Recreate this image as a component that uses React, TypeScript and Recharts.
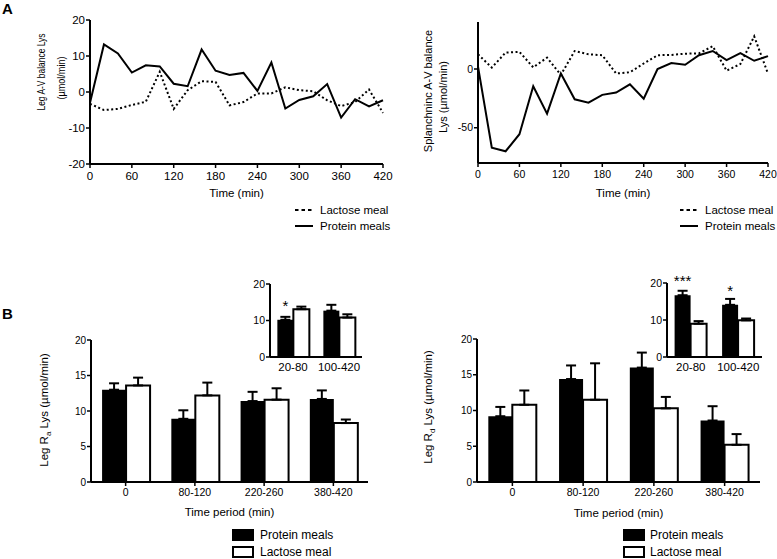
import { LineChart, Line, BarChart, Bar, XAxis, YAxis, ErrorBar, LabelList, Label } from "recharts"

// time course (min), sampled every 20 min
const times = [0, 20, 40, 60, 80, 100, 120, 140, 160, 180, 200, 220, 240, 260, 280, 300, 320, 340, 360, 380, 400, 420]
const timeTicks = [0, 60, 120, 180, 240, 300, 360, 420]

// Panel A, leg A-V balance Lys (µmol/min)
const legLactose = [-3.3, -5, -4.7, -3.6, -2.7, 5.6, -4.7, 0.5, 3, 2.8, -3.7, -2.8, -0.4, -0.4, 1.3, 0.5, 0.2, -2.3, -3.9, -2.8, 0.7, -5.8]
const legProtein = [-3, 13.2, 10.7, 5.4, 7.4, 7.1, 2.3, 1.6, 11.8, 5.9, 4.7, 5.3, 0.3, 8.2, -4.6, -2.2, -1.2, 2.2, -7.1, -2, -4, -2.3]

// Panel A, splanchnic A-V balance Lys (µmol/min)
const splLactose = [12.5, 1.2, 14, 14.6, 1.4, 9.7, -5, 15.3, 12.5, 11.7, -3.8, -2.8, 4.7, 11.7, 12, 13, 13.3, 19.4, -1.4, 4.2, 27.8, -4]
const splProtein = [2, -67, -70, -55.5, -14.7, -38, -3.8, -25.8, -28.6, -22, -20, -13, -25.3, 0, 5, 3.6, 11.7, 15.3, 7.5, 13.6, 7, 11]

// Panel B, time periods
const periods = ["0", "80-120", "220-260", "380-420"]
const raProtein = [13.0, 8.9, 11.4, 11.7]
const raProteinSem = [0.9, 1.2, 1.3, 1.2]
const raLactose = [13.6, 12.2, 11.6, 8.3]
const raLactoseSem = [1.1, 1.8, 1.6, 0.5]
const rdProtein = [9.2, 14.4, 16.0, 8.6]
const rdProteinSem = [1.3, 1.9, 2.1, 2.0]
const rdLactose = [10.8, 11.5, 10.3, 5.2]
const rdLactoseSem = [2.0, 5.1, 1.6, 1.5]

// Panel B insets
const insetPeriods = ["20-80", "100-420"]
const raInsetProtein = [10.2, 12.7]
const raInsetProteinSem = [0.8, 1.6]
const raInsetLactose = [13.1, 10.8]
const raInsetLactoseSem = [0.7, 0.9]
const raInsetSig = ["*", ""]
const rdInsetProtein = [16.7, 14.1]
const rdInsetProteinSem = [1.2, 1.6]
const rdInsetLactose = [9.0, 9.9]
const rdInsetLactoseSem = [0.7, 0.5]
const rdInsetSig = ["***", "*"]

const axisLine = { stroke: "#000", strokeWidth: 2 }
const tickLine = { stroke: "#000", strokeWidth: 1.5 }

const lineData = (lac: number[], pro: number[]) =>
  times.map((t, i) => ({ time: t, lactose: lac[i], protein: pro[i] }))

const barData = (cats: string[], p: number[], pe: number[], l: number[], le: number[], sig?: string[]) =>
  cats.map((c, i) => ({
    period: c,
    protein: p[i],
    proteinErr: [0, pe[i]],
    lactose: l[i],
    lactoseErr: [0, le[i]],
    sig: sig ? sig[i] : "",
  }))

type TitleLine = { text: any; x: number; y: number; len?: number }

// rotated y-axis title, one <text> per line
const yTitle = (lines: TitleLine[], fontSize: number) => () => (
  <g>
    {lines.map((l, i) => (
      <text
        key={i}
        x={l.x}
        y={l.y}
        transform={`rotate(-90 ${l.x} ${l.y})`}
        textAnchor="middle"
        fontSize={fontSize}
        fill="#000"
        textLength={l.len}
        lengthAdjust={l.len ? "spacingAndGlyphs" : undefined}
      >
        {l.text}
      </text>
    ))}
  </g>
)

const xTitle = (text: string, y: number, fontSize: number) => (props: any) => {
  const vb = props.viewBox
  return (
    <text x={vb.x + vb.width / 2} y={y} textAnchor="middle" fontSize={fontSize} fill="#000">
      {text}
    </text>
  )
}

const star = (props: any) => {
  const { x, y, width, value } = props
  if (!value) return null
  return (
    <text x={x + width / 2} y={y - 9} textAnchor="middle" fontSize={15} fill="#000">
      {value}
    </text>
  )
}

function TimeCourse(props: any) {
  const { left, width, margin, yWidth, xHeight, domain, yTicks, data, tickFont, titleLines, titleFont, xTitleY } = props
  return (
    <div style={{ position: "absolute", left, top: 0 }}>
      <LineChart width={width} height={200} data={data} margin={margin}>
        <XAxis
          type="number"
          dataKey="time"
          domain={[0, 420]}
          ticks={timeTicks}
          interval={0}
          height={xHeight}
          axisLine={axisLine}
          tickLine={tickLine}
          tickSize={4}
          tickMargin={4}
          tick={{ fill: "#000", fontSize: tickFont }}
        >
          <Label content={xTitle("Time (min)", xTitleY, 11.5)} />
        </XAxis>
        <YAxis
          type="number"
          domain={domain}
          ticks={yTicks}
          interval={0}
          width={yWidth}
          axisLine={axisLine}
          tickLine={tickLine}
          tickSize={4}
          tickMargin={1}
          tick={{ fill: "#000", fontSize: tickFont }}
        >
          <Label content={yTitle(titleLines, titleFont)} />
        </YAxis>
        <Line type="linear" dataKey="lactose" stroke="#000" strokeWidth={2} strokeDasharray="2 2.5" dot={false} isAnimationActive={false} />
        <Line type="linear" dataKey="protein" stroke="#000" strokeWidth={2} dot={false} isAnimationActive={false} />
      </LineChart>
    </div>
  )
}

function PeriodBars(props: any) {
  const { left, top, width, height, margin, yWidth, xHeight, data, ticks, tickFont, xTickFont, titleLines, xTitleY, tickMargin } = props
  return (
    <div style={{ position: "absolute", left, top }}>
      <BarChart width={width} height={height} data={data} margin={margin} barCategoryGap="16%" barGap={0}>
        <XAxis
          dataKey="period"
          interval={0}
          height={xHeight}
          axisLine={axisLine}
          tickLine={titleLines ? tickLine : false}
          tickSize={4}
          tickMargin={tickMargin}
          tick={{ fill: "#000", fontSize: xTickFont }}
        >
          {xTitleY ? <Label content={xTitle("Time period (min)", xTitleY, 11.5)} /> : null}
        </XAxis>
        <YAxis
          type="number"
          domain={[0, 20]}
          ticks={ticks}
          interval={0}
          width={yWidth}
          axisLine={axisLine}
          tickLine={tickLine}
          tickSize={4}
          tickMargin={1}
          tick={{ fill: "#000", fontSize: tickFont }}
        >
          {titleLines ? <Label content={yTitle(titleLines, 11.5)} /> : null}
        </YAxis>
        <Bar dataKey="protein" fill="#000" isAnimationActive={false}>
          <ErrorBar dataKey="proteinErr" width={5} stroke="#000" strokeWidth={2} direction="y" isAnimationActive={false} />
          <LabelList dataKey="sig" content={star} />
        </Bar>
        <Bar dataKey="lactose" fill="#fff" stroke="#000" strokeWidth={2} isAnimationActive={false}>
          <ErrorBar dataKey="lactoseErr" width={5} stroke="#000" strokeWidth={2} direction="y" isAnimationActive={false} />
        </Bar>
      </BarChart>
    </div>
  )
}

const rowStyle = (x: number, y: number) => ({
  position: "absolute" as const,
  left: x,
  top: y - 8,
  height: 16,
  display: "flex",
  alignItems: "center",
  whiteSpace: "nowrap" as const,
})

function LineLegend({ x, textX }: { x: number; textX: number }) {
  const rows = [
    { name: "Lactose meal", dash: "3.5 3", y: 210 },
    { name: "Protein meals", dash: undefined, y: 226 },
  ]
  return (
    <>
      {rows.map((r) => (
        <div key={r.name} style={rowStyle(x, r.y)}>
          <svg width={textX - x} height={16} style={{ display: "block", flex: "none" }}>
            <line x1={0} x2={18} y1={8} y2={8} stroke="#000" strokeWidth={2} strokeDasharray={r.dash} />
          </svg>
          <span style={{ fontSize: 11.5, lineHeight: "16px" }}>{r.name}</span>
        </div>
      ))}
    </>
  )
}

function BarLegend({ x, textX }: { x: number; textX: number }) {
  const rows = [
    { name: "Protein meals", fill: "#000", y: 535 },
    { name: "Lactose meal", fill: "#fff", y: 552 },
  ]
  return (
    <>
      {rows.map((r) => (
        <div key={r.name} style={rowStyle(x, r.y)}>
          <svg width={textX - x} height={16} style={{ display: "block", flex: "none" }}>
            <rect x={1} y={3} width={20} height={10} fill={r.fill} stroke="#000" strokeWidth={2} />
          </svg>
          <span style={{ fontSize: 12, lineHeight: "16px" }}>{r.name}</span>
        </div>
      ))}
    </>
  )
}

export default function App() {
  const raSub = (
    <>
      Leg R<tspan fontSize={8} dy={3}>a</tspan>
      <tspan dy={-3}> Lys (µmol/min)</tspan>
    </>
  )
  const rdSub = (
    <>
      Leg R<tspan fontSize={8} dy={3}>d</tspan>
      <tspan dy={-3}> Lys (µmol/min)</tspan>
    </>
  )

  return (
    <div
      style={{
        position: "absolute",
        left: 0,
        top: 0,
        width: 777,
        height: 559,
        overflow: "hidden",
        background: "#fff",
        fontFamily: "'Liberation Sans', Arial, sans-serif",
        color: "#000",
      }}
    >
      <div style={{ position: "absolute", left: 2, top: 1, fontSize: 15, fontWeight: "bold", lineHeight: "15px" }}>A</div>
      <div style={{ position: "absolute", left: 2, top: 306, fontSize: 15, fontWeight: "bold", lineHeight: "15px" }}>B</div>

      <TimeCourse
        left={0}
        width={400}
        margin={{ top: 20, right: 17, bottom: 0, left: 0 }}
        yWidth={90}
        xHeight={36}
        domain={[-20, 20]}
        yTicks={[-20, -10, 0, 10, 20]}
        data={lineData(legLactose, legProtein)}
        tickFont={11.5}
        titleLines={[
          { text: "Leg A-V balance Lys", x: 44.5, y: 72, len: 77 },
          { text: "(µmol/min)", x: 64.5, y: 78, len: 43 },
        ]}
        titleFont={11}
        xTitleY={197}
      />
      <TimeCourse
        left={390}
        width={387}
        margin={{ top: 22, right: 9, bottom: 0, left: 0 }}
        yWidth={88}
        xHeight={37}
        domain={[-80, 40]}
        yTicks={[-50, 0]}
        data={lineData(splLactose, splProtein)}
        tickFont={10.5}
        titleLines={[
          { text: "Splanchninc A-V balance", x: 42, y: 91 },
          { text: "Lys (µmol/min)", x: 57, y: 97 },
        ]}
        titleFont={11}
        xTitleY={197}
      />
      <LineLegend x={295} textX={320} />
      <LineLegend x={680} textX={705} />

      <PeriodBars
        left={0}
        top={320}
        width={400}
        height={210}
        margin={{ top: 20, right: 32, bottom: 0, left: 0 }}
        yWidth={91}
        xHeight={48}
        data={barData(periods, raProtein, raProteinSem, raLactose, raLactoseSem)}
        ticks={[0, 5, 10, 15, 20]}
        tickFont={10}
        xTickFont={10.5}
        tickMargin={3}
        titleLines={[{ text: raSub, x: 48, y: 90 }]}
        xTitleY={195.7}
      />
      <PeriodBars
        left={387}
        top={320}
        width={390}
        height={210}
        margin={{ top: 19, right: 17, bottom: 0, left: 0 }}
        yWidth={90}
        xHeight={48}
        data={barData(periods, rdProtein, rdProteinSem, rdLactose, rdLactoseSem)}
        ticks={[0, 5, 10, 15, 20]}
        tickFont={10}
        xTickFont={10.5}
        tickMargin={3}
        titleLines={[{ text: rdSub, x: 44.5, y: 87 }]}
        xTitleY={197}
      />
      <PeriodBars
        left={230}
        top={270}
        width={140}
        height={110}
        margin={{ top: 14, right: 8, bottom: 0, left: 0 }}
        yWidth={40}
        xHeight={23}
        data={barData(insetPeriods, raInsetProtein, raInsetProteinSem, raInsetLactose, raInsetLactoseSem, raInsetSig)}
        ticks={[0, 10, 20]}
        tickFont={10.5}
        xTickFont={11.5}
        tickMargin={2}
      />
      <PeriodBars
        left={627}
        top={270}
        width={145}
        height={110}
        margin={{ top: 13, right: 10, bottom: 0, left: 0 }}
        yWidth={40}
        xHeight={23}
        data={barData(insetPeriods, rdInsetProtein, rdInsetProteinSem, rdInsetLactose, rdInsetLactoseSem, rdInsetSig)}
        ticks={[0, 10, 20]}
        tickFont={10.5}
        xTickFont={11.5}
        tickMargin={2}
      />
      <BarLegend x={232} textX={260} />
      <BarLegend x={623} textX={650} />
    </div>
  )
}
